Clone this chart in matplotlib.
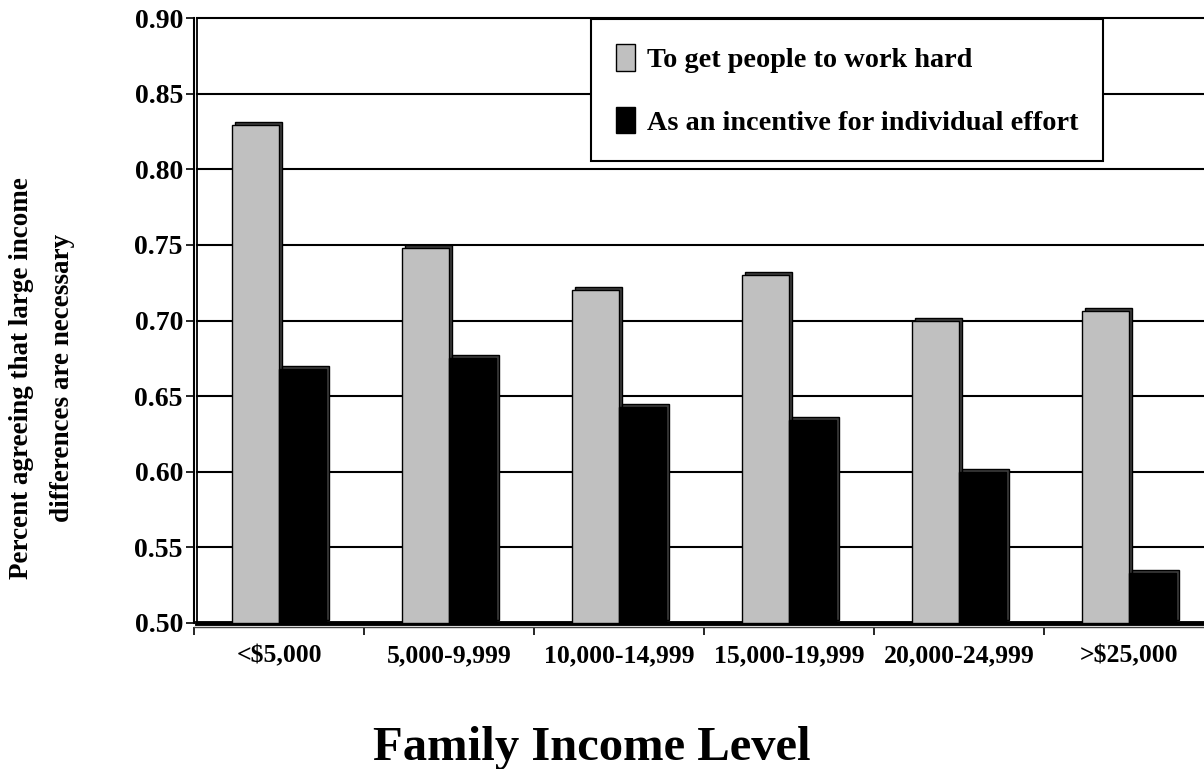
import matplotlib
matplotlib.use("Agg")
import matplotlib.pyplot as plt
from matplotlib.transforms import ScaledTranslation
from matplotlib.patches import Patch
import numpy as np

categories = ["<$5,000", "5,000-9,999", "10,000-14,999", "15,000-19,999",
              "20,000-24,999", ">$25,000"]
work_hard = [0.829, 0.748, 0.720, 0.730, 0.700, 0.706]
incentive = [0.668, 0.675, 0.643, 0.634, 0.600, 0.533]
series_labels = ["To get people to work hard",
                 "As an incentive for individual effort"]
series_colors = ["#c0c0c0", "#000000"]
yticks = [0.50, 0.55, 0.60, 0.65, 0.70, 0.75, 0.80, 0.85, 0.90]

FONT = "Liberation Serif"
plt.rcParams["font.family"] = [FONT, "DejaVu Serif"]
plt.rcParams["font.weight"] = "bold"

W, H = 1204, 769
fig = plt.figure(figsize=(W / 100, H / 100), dpi=100)
ax = fig.add_axes([194 / W, 1 - 623 / H, 1020 / W, (623 - 18) / H])
ax.set_xlim(0, len(categories))
ax.set_ylim(yticks[0], yticks[-1])

# small offsets that give the back wall and the bars some depth
wall = ax.transData + ScaledTranslation(3 / 100, 0, fig.dpi_scale_trans)
depth = ScaledTranslation(3 / 100, 3 / 100, fig.dpi_scale_trans)

# back wall gridlines, wall edge and floor
for y in yticks[1:]:
    ax.plot([0, len(categories)], [y, y], color="black", lw=1.5,
            transform=wall, zorder=1, clip_on=False)
ax.plot([0, 0], [yticks[0], yticks[-1]], color="black", lw=1.3,
        transform=wall, zorder=1, clip_on=False)
ax.plot([0, len(categories)], [yticks[0], yticks[0]], color="black", lw=3.5,
        transform=wall, zorder=1, clip_on=False)

x = np.arange(len(categories)) + 0.5
w = 0.275
base = yticks[0]
for i, (vals, col) in enumerate(zip([work_hard, incentive], series_colors)):
    pos = x + (i - 0.5) * w
    heights = np.array(vals) - base
    ax.bar(pos, heights, bottom=base, width=w, color="#3c3c3c",
           edgecolor="black", lw=1, transform=ax.transData + depth,
           zorder=2 + 2 * i)
    ax.bar(pos, heights, bottom=base, width=w, color=col,
           edgecolor="black", lw=1, zorder=3 + 2 * i)

# axes styling
for s in ["top", "right"]:
    ax.spines[s].set_visible(False)
ax.spines["left"].set_linewidth(1.5)
ax.spines["bottom"].set_position(("outward", 3))
ax.spines["bottom"].set_linewidth(1.0)
ax.spines["bottom"].set_color("#444444")

ax.set_yticks(yticks)
ax.set_yticklabels([f"{v:.2f}" for v in yticks], fontsize=20,
                   fontweight="bold", family=FONT)
ax.tick_params(axis="y", direction="out", length=6, width=1.2, pad=2)

ax.set_xticks(np.arange(len(categories) + 1))
ax.set_xticklabels([])
ax.tick_params(axis="x", which="major", direction="out", length=6, width=1.2)
ax.set_xticks(x, minor=True)
ax.set_xticklabels(categories, minor=True, fontsize=18.5,
                   fontweight="bold", family=FONT)
ax.tick_params(axis="x", which="minor", length=0, pad=12)

handles = [Patch(facecolor=c, edgecolor="black", lw=1) for c in series_colors]
leg = ax.legend(handles, series_labels, loc="upper left",
                bbox_to_anchor=(591 / W, 1 - 19 / H),
                bbox_transform=fig.transFigure, borderaxespad=0,
                prop={"family": FONT, "weight": "bold", "size": 20.3},
                fancybox=False, framealpha=1, edgecolor="black",
                borderpad=0.9, handlelength=0.65, handleheight=1.05,
                handletextpad=0.42, labelspacing=1.2)
leg.get_frame().set_linewidth(1.5)
leg.set_zorder(10)

fig.text(42 / W, 1 - 378 / H,
         "Percent agreeing that large income\ndifferences are necessary",
         rotation=90, ha="center", va="center", multialignment="center",
         linespacing=1.8, fontsize=19.5, fontweight="bold", family=FONT)
fig.text(592 / W, 1 - 748 / H, "Family Income Level", ha="center",
         va="center", fontsize=35, fontweight="bold", family=FONT)

fig.savefig("out.png", dpi=100)
